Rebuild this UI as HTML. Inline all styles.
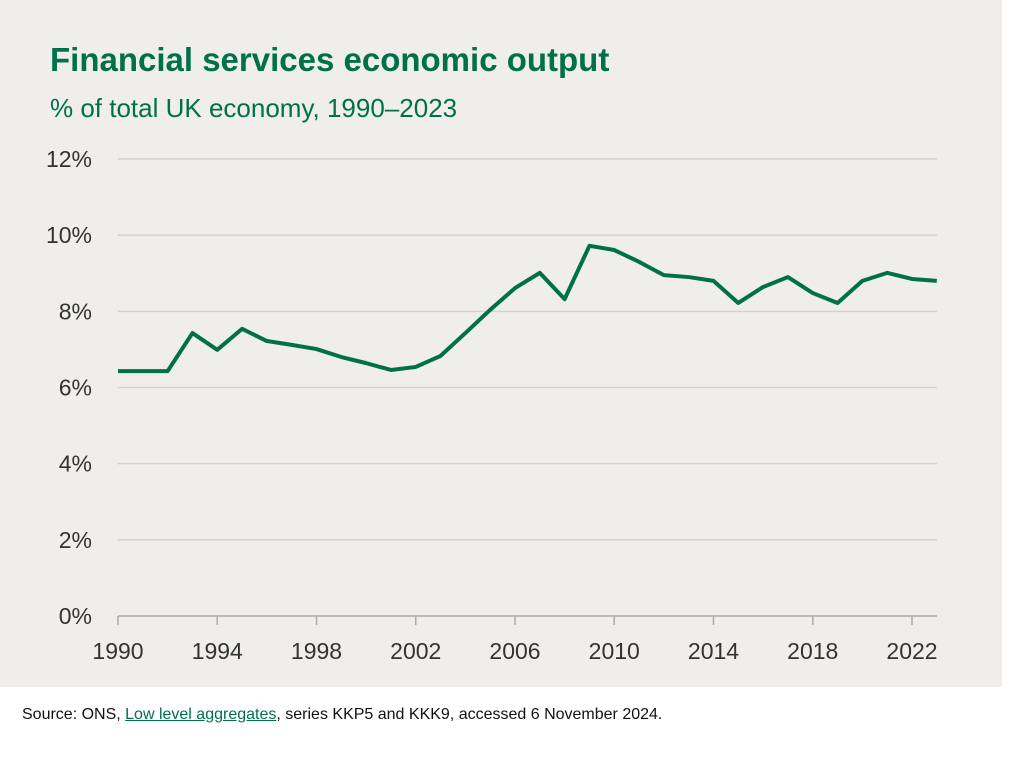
<!DOCTYPE html>
<html><head><meta charset="utf-8">
<style>
body{margin:0;background:#fff;width:1022px;height:774px;overflow:hidden;font-family:"Liberation Sans",sans-serif}
#panel{position:absolute;left:0;top:0;width:1002px;height:687px;background:#efeeec}
#title{position:absolute;left:50px;top:41px;font-size:33px;font-weight:bold;color:#00704a;margin:0}
#subtitle{position:absolute;left:50px;top:93px;font-size:26px;color:#00704a}
#source{position:absolute;left:22px;top:706px;font-size:16px;color:#111}
#source a{color:#00704a;text-decoration:underline}
svg{position:absolute;left:0;top:0}
</style></head><body>
<div id="panel"></div>
<h1 id="title">Financial services economic output</h1>
<div id="subtitle">% of total UK economy, 1990–2023</div>
<svg id="chart" width="1022" height="774"></svg>
<div id="source">Source: ONS, <a>Low level aggregates</a>, series KKP5 and KKK9, accessed 6 November 2024.</div>
<script>
const years=[1990,1991,1992,1993,1994,1995,1996,1997,1998,1999,2000,2001,2002,2003,2004,2005,2006,2007,2008,2009,2010,2011,2012,2013,2014,2015,2016,2017,2018,2019,2020,2021,2022,2023];
const shares=[6.43,6.43,6.43,7.43,6.99,7.54,7.22,7.12,7.01,6.80,6.64,6.46,6.54,6.83,7.43,8.04,8.61,9.01,8.32,9.72,9.61,9.30,8.95,8.90,8.80,8.22,8.64,8.90,8.48,8.22,8.80,9.01,8.85,8.80];
const yTicks=[0,2,4,6,8,10,12];
const xTicks=[1990,1994,1998,2002,2006,2010,2014,2018,2022];
const NS='http://www.w3.org/2000/svg';
const svg=document.getElementById('chart');
const X=v=>118+(v-1990)*(912-118)/32;
const Y=v=>616-v*(616-159)/12;
function mk(t,a){const e=document.createElementNS(NS,t);for(const k in a)e.setAttribute(k,a[k]);svg.appendChild(e);return e;}
yTicks.forEach(v=>{
  const g=mk('line',{x1:118,x2:937,y1:Y(v),y2:Y(v),stroke:v===0?'#aaa':'#d4d3d1','stroke-width':1.5});
  
  
  const t=mk('text',{x:92,y:Y(v)+8,'text-anchor':'end','font-size':23,fill:'#333','font-family':'Liberation Sans, sans-serif'});
  t.textContent=v+'%';
  
  
});
xTicks.forEach(yr=>{
  const tk=mk('line',{x1:X(yr),x2:X(yr),y1:616,y2:625,stroke:'#aaa','stroke-width':1.5});
  
  
  const t=mk('text',{x:X(yr),y:659,'text-anchor':'middle','font-size':23,fill:'#333','font-family':'Liberation Sans, sans-serif'});
  t.textContent=yr;
  
  
});
const p=mk('polyline',{points:years.map((y,i)=>X(y)+','+Y(shares[i])).join(' '),fill:'none',stroke:'#00704a','stroke-width':4,'stroke-linejoin':'round'});


</script>
</body></html>
